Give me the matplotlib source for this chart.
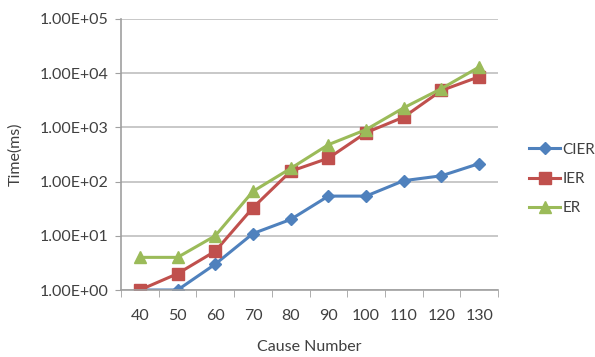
import matplotlib.pyplot as plt
import numpy as np
from matplotlib.ticker import FixedLocator, FuncFormatter

plt.rcParams['font.family'] = ['Lato', 'DejaVu Sans']

causes = [40, 50, 60, 70, 80, 90, 100, 110, 120, 130]
cier = [1, 1, 3, 11, 20, 54, 54, 104, 128, 215]
ier = [1, 2, 5.2, 33, 155, 270, 800, 1550, 4800, 8600]
er = [4, 4, 10, 66, 175, 480, 910, 2300, 5200, 13000]

fig = plt.figure(figsize=(5.95, 3.57), dpi=100)
ax = fig.add_axes([121 / 595, 1 - 290 / 357, 377 / 595, 271 / 357])

x = np.arange(len(causes))
ax.plot(x, cier, color='#4F81BD', lw=2.2, marker='D', ms=6, label='CIER')
ax.plot(x, ier, color='#C0504D', lw=2.2, marker='s', ms=8, label='IER')
ax.plot(x, er, color='#9BBB59', lw=2.2, marker='^', ms=8, label='ER')

ax.set_yscale('log')
ax.set_ylim(1, 1e5)
ax.set_xlim(-0.5, len(causes) - 0.5)
ax.yaxis.set_major_locator(FixedLocator([1, 10, 100, 1e3, 1e4, 1e5]))
ax.yaxis.set_minor_locator(FixedLocator([]))
ax.yaxis.set_major_formatter(FuncFormatter(lambda v, p: '%.2E' % v))
ax.grid(axis='y', color='#BFBFBF', lw=1.2)
ax.set_axisbelow(True)

ax.set_xticks(x)
ax.set_xticklabels([str(c) for c in causes])
ax.set_xticks(np.arange(-0.5, len(causes)), minor=True)
ax.tick_params(axis='x', which='major', length=0, pad=14, labelsize=11.5, colors='#404040')
ax.tick_params(axis='x', which='minor', length=5, color='#A0A0A0', direction='out')
ax.tick_params(axis='y', length=4, color='#A0A0A0', labelsize=11.5, labelcolor='#404040', pad=5)

for s in ['top', 'right']:
    ax.spines[s].set_visible(False)
for s in ['left', 'bottom']:
    ax.spines[s].set_color('#A0A0A0')
    ax.spines[s].set_linewidth(1.2)

ax.set_xlabel('Cause Number', fontsize=11.5, color='#404040', labelpad=12)
ax.set_ylabel('Time(ms)', fontsize=11.5, color='#404040', labelpad=12)

ax.legend(loc='center left', bbox_to_anchor=(1.083, 0.41), frameon=False,
          fontsize=11, handlelength=2.0, handletextpad=0.15, labelspacing=1.0,
          borderpad=0, borderaxespad=0, labelcolor='#404040')

fig.savefig('out.png', dpi=100)
